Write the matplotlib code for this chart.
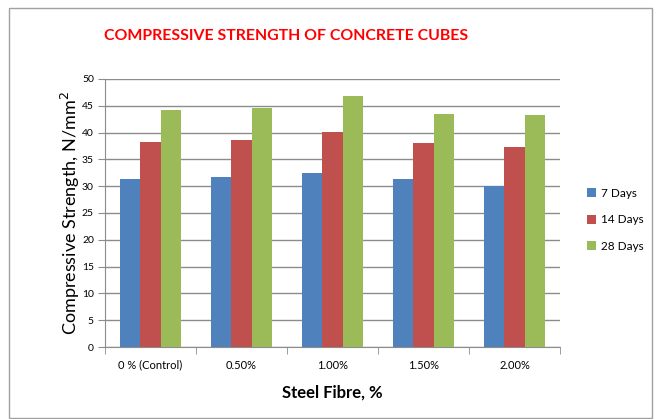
import numpy as np
import matplotlib
matplotlib.use("Agg")
import matplotlib.pyplot as plt
from matplotlib.patches import Rectangle

# Datos
categorias = ["0 % (Control)", "0.50%", "1.00%", "1.50%", "2.00%"]
dias_7 = [31.3, 31.7, 32.5, 31.3, 30.1]
dias_14 = [38.2, 38.7, 40.1, 38.0, 37.3]
dias_28 = [44.3, 44.6, 46.9, 43.5, 43.2]
series = ["7 Days", "14 Days", "28 Days"]
colores = ["#4F81BD", "#C0504D", "#9BBB59"]

plt.rcParams['font.family'] = ['Lato', 'DejaVu Sans']

fig = plt.figure(figsize=(6.54, 4.19), dpi=100)
W, H = 654, 419

# marco exterior
fig.patches.append(Rectangle((9 / W, 1 - 418 / H), 643 / W, 410 / H,
                             transform=fig.transFigure, fill=False,
                             edgecolor="#A0A0A0", linewidth=1))

ax = fig.add_axes([105 / W, 1 - 347 / H, 455 / W, 268 / H])

x = np.arange(len(categorias))
ancho = 0.22
for i, (valores, nombre) in enumerate(zip([dias_7, dias_14, dias_28], series)):
    ax.bar(x + (i - 1) * ancho, valores, ancho, color=colores[i], label=nombre, zorder=3)

ax.set_xlim(-0.5, len(categorias) - 0.5)
ax.set_ylim(0, 50)
ax.set_yticks(range(0, 51, 5))
ax.yaxis.grid(True, color="#8C8C8C", linewidth=1, zorder=0)
ax.set_axisbelow(True)

for lado in ["top", "right"]:
    ax.spines[lado].set_visible(False)
for lado in ["left", "bottom"]:
    ax.spines[lado].set_color("#8C8C8C")

ax.set_xticks(x)
ax.set_xticklabels(categorias, fontsize=8)
ax.tick_params(axis="x", length=0, pad=9)
ax.set_xticks(np.arange(-0.5, len(categorias)), minor=True)
ax.tick_params(axis="x", which="minor", length=5, color="#8C8C8C")
ax.tick_params(axis="y", length=5, color="#8C8C8C", labelsize=7.5, pad=3)

ax.set_xlabel("Steel Fibre, %", fontsize=12, fontweight="bold", labelpad=10)
ax.set_ylabel("Compressive Strength, N/mm$^2$", fontsize=13, labelpad=0)

fig.text(104 / W, 1 - 36 / H, "COMPRESSIVE STRENGTH OF CONCRETE CUBES",
         color="#FF0000", fontsize=11.4, fontweight="bold", va="center", ha="left")

ax.legend(loc="center left", bbox_to_anchor=(1.035, 0.475), frameon=False,
          fontsize=8.5, handlelength=0.8, handleheight=0.8, handletextpad=0.4,
          labelspacing=1.3)

fig.savefig("out.png", dpi=100)
